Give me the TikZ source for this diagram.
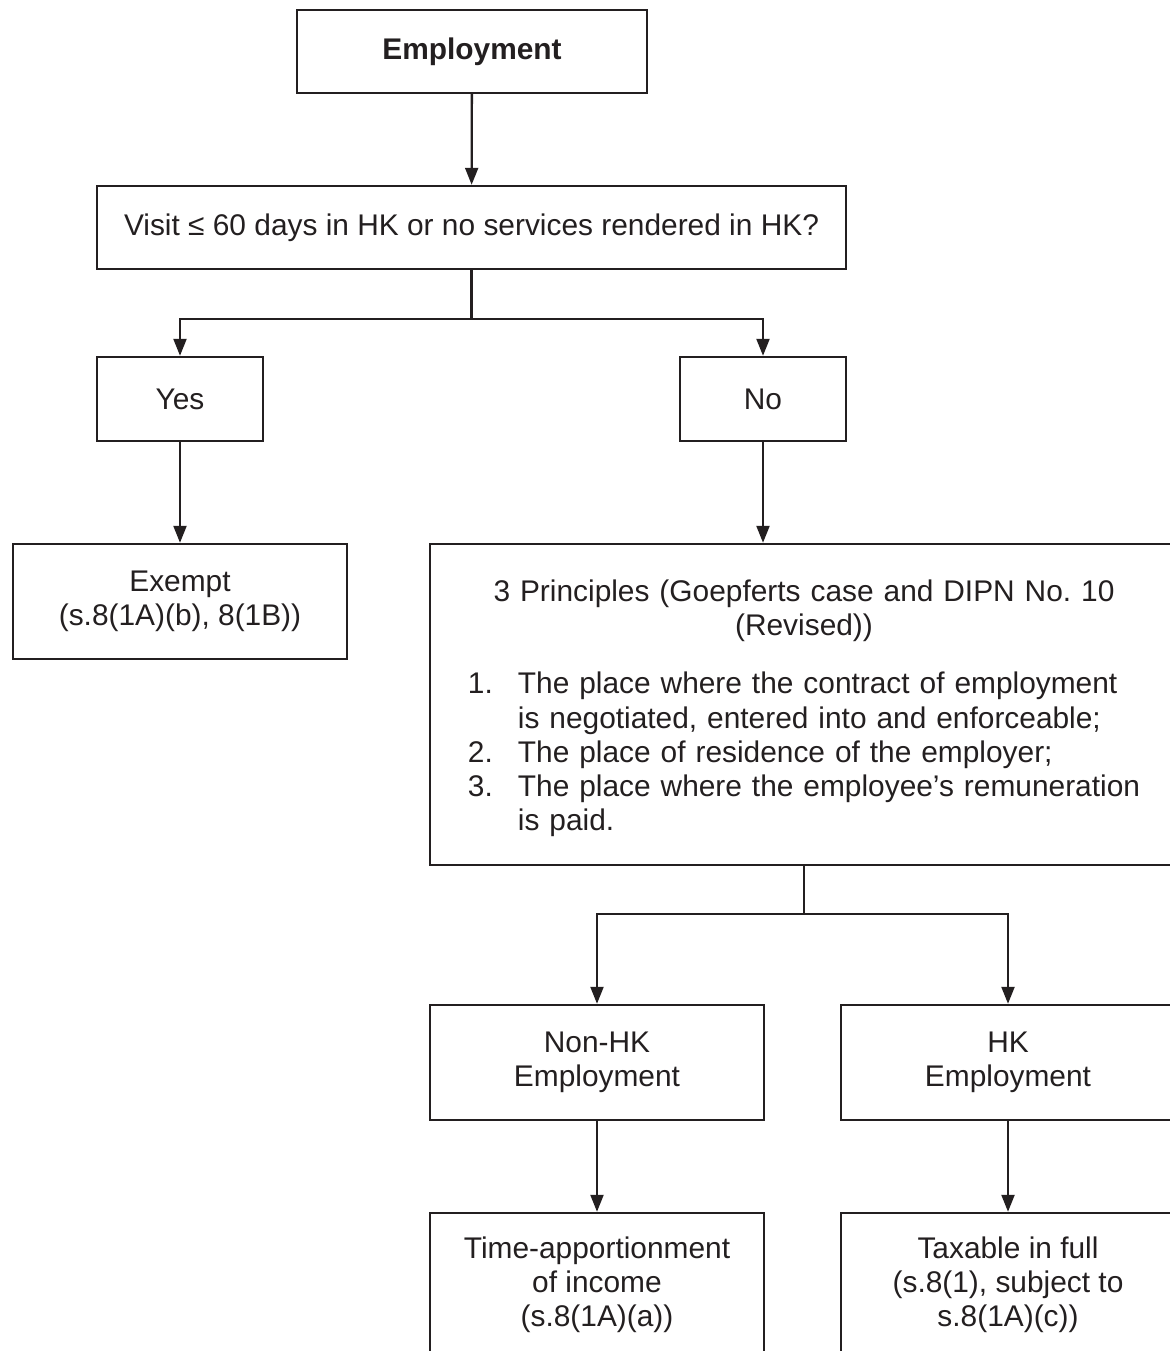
\documentclass[tikz,border=0pt]{standalone}
\usepackage{fontspec}
\setmainfont{Liberation Sans}
\usetikzlibrary{arrows.meta}
\definecolor{ink}{RGB}{35,31,32}

\begin{document}
\begin{tikzpicture}[>={Triangle[length=3.4mm,width=2.6mm]},
		box/.style={draw=ink, line width=1.4pt, rectangle, align=center, text=ink, inner sep=0pt,
			font=\fontsize{17}{19.4}\selectfont},
		conn/.style={draw=ink, line width=1.3pt}]
		\useasboundingbox (0,0) rectangle (23.38,-27.02);
		
		\node[box, minimum width=7cm, minimum height=1.66cm, font=\fontsize{17}{19.4}\selectfont\bfseries] (emp) at (9.44,-1.03) {Employment};
		\node[box, minimum width=14.98cm, minimum height=1.66cm] (visit) at (9.43,-4.55) {Visit ≤ 60 days in HK or no services rendered in HK?};
		\node[box, minimum width=3.32cm, minimum height=1.68cm] (yes) at (3.6,-7.98) {Yes};
		\node[box, minimum width=3.32cm, minimum height=1.68cm] (no) at (15.26,-7.98) {No};
		\node[box, minimum width=6.68cm, minimum height=2.3cm] (exempt) at (3.6,-12.03) {Exempt\\(s.8(1A)(b), 8(1B))};
		\node[box, minimum width=14.96cm, minimum height=6.42cm, text width=14.5cm] (princ) at (16.08,-14.09)
			{\rule{0pt}{19pt}3 Principles (Goepferts case and DIPN No.~10\\(Revised))\\[0.48cm]
			\begin{tabular}[t]{@{}p{1.0cm}@{}l@{}}
				1. & The place where the contract of employment\\
				   & is negotiated, entered into and enforceable;\\
				2. & The place of residence of the employer;\\
				3. & The place where the employee’s remuneration\\
				   & is paid.
			\end{tabular}};
		\node[box, minimum width=6.68cm, minimum height=2.3cm] (nonhk) at (11.94,-21.25) {Non-HK\\Employment};
		\node[box, minimum width=6.68cm, minimum height=2.3cm] (hk) at (20.16,-21.25) {HK\\Employment};
		\node[box, minimum width=6.68cm, minimum height=2.88cm] (timeapp) at (11.94,-25.7) {Time-apportionment\\of income\\(s.8(1A)(a))};
		\node[box, minimum width=6.68cm, minimum height=2.88cm] (taxable) at (20.16,-25.7) {Taxable in full\\(s.8(1), subject to\\s.8(1A)(c))};
		
		\draw[conn,->] (emp) -- (visit);
		\draw[conn] (visit.south) -- ++(0,-0.98) coordinate (split1);
		\draw[conn,->] (split1) -| (yes.north);
		\draw[conn,->] (split1) -| (no.north);
		\draw[conn,->] (yes) -- (exempt);
		\draw[conn,->] (no.south) -- (no.south |- princ.north);
		\draw[conn] (princ.south) -- ++(0,-0.96) coordinate (split2);
		\draw[conn,->] (split2) -| (nonhk.north);
		\draw[conn,->] (split2) -| (hk.north);
		\draw[conn,->] (nonhk) -- (timeapp);
		\draw[conn,->] (hk) -- (taxable);
	\end{tikzpicture}
\end{document}
